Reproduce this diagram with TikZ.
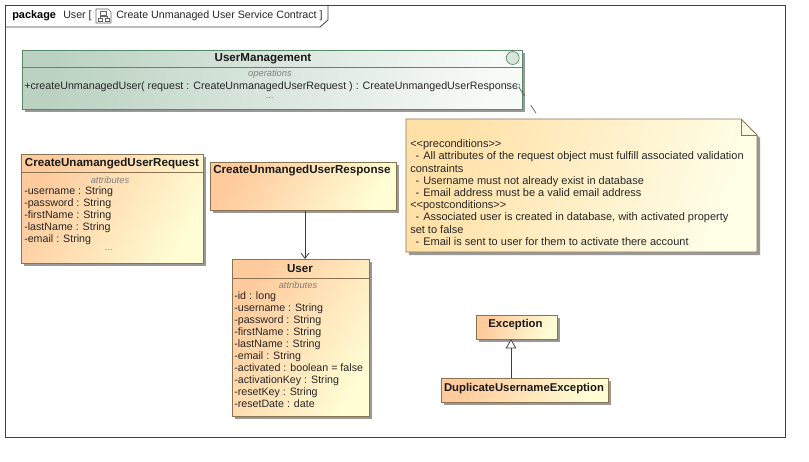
\documentclass[tikz,border=0pt]{standalone}
\usepackage{fontspec}
\setmainfont{Liberation Sans}
\usetikzlibrary{arrows.meta, shadows}
\newcommand{\px}{0.75pt}
\definecolor{classleft}{HTML}{FFCA9C}
\definecolor{classright}{HTML}{FFFDD4}
\definecolor{noteleft}{HTML}{FFE0A6}
\definecolor{noteright}{HTML}{FFFFE8}
\definecolor{ifaceleft}{HTML}{BBD2C2}
\definecolor{ifaceright}{HTML}{F8FAF8}
\definecolor{classline}{HTML}{8A7350}
\definecolor{ifaceline}{HTML}{5B8A66}
\tikzset{
    x=0.75pt, y=-0.75pt,
    boxshadow/.style={general shadow={shadow xshift=3*\px, shadow yshift=-3*\px, fill=black!40}},
    classbox/.style={draw=classline, line width=0.7pt, anchor=north west, inner sep=0pt, boxshadow,
        left color=classleft, right color=classright, shading angle=60},
    ifacebox/.style={draw=ifaceline, line width=0.7pt, anchor=north west, inner sep=0pt, boxshadow,
        left color=ifaceleft, right color=ifaceright, shading angle=80},
    titletext/.style={font=\fontsize{8.7}{9}\selectfont\bfseries, inner sep=0pt, text=black!90},
    listtext/.style={font=\fontsize{8}{9}\selectfont, inner sep=0pt, anchor=north west, align=left, text=black!85},
    comptext/.style={font=\fontsize{7}{8}\selectfont\itshape, inner sep=0pt, text=black!50},
    assoc/.style={-{Straight Barb[length=4pt,width=6pt]}, black!75, line width=0.6pt},
    general/.style={-{Triangle[open,fill=white,length=7pt,width=8pt]}, black!75, line width=0.6pt},
}
\begin{document}
\begin{tikzpicture}
        \useasboundingbox (0,0) rectangle (809,461);

        % Frame with its tab
        \draw[black!75, line width=0.6pt] (5,5) rectangle (785,437);
        \draw[black!75, line width=0.6pt] (5,27) -- (320,27) -- (328,20) -- (328,5);
        \node[font=\fontsize{8.2}{9}\selectfont\bfseries, inner sep=0pt, anchor=base west] (framekind) at (12,18) {package};
        \node[listtext, anchor=base west] (framename) at (63,18) {User [};
        \node[listtext, anchor=base west] (frametitle) at (116,18) {Create Unmanaged User Service Contract ]};

        % Frame icon
        \draw[black!60, line width=0.4pt] (96,9) -- (108,9) -- (111,12) -- (111,23) -- (96,23) -- cycle;
        \draw[black!60, line width=0.4pt] (100,11) rectangle (106,15);
        \draw[black!60, line width=0.4pt] (98,18) rectangle (102,21);
        \draw[black!60, line width=0.4pt] (105,18) rectangle (109,21);
        \draw[black!60, line width=0.4pt] (103,15) -- (103,16.5) (100,18) -- (100,16.5) -- (107,16.5) -- (107,18);

        % UserManagement interface
        \node[ifacebox, minimum width=500*\px, minimum height=59*\px] (usermgmt) at (21.5,50) {};
        \draw[ifaceline, line width=0.7pt] (usermgmt.north west |- 0,67.5) -- (usermgmt.north east |- 0,67.5);
        \node[titletext] (usermgmtname) at (263,59) {UserManagement};
        \node[circle, draw=ifaceline, fill=ifaceleft!60, line width=0.5pt, minimum size=13*\px, inner sep=0pt] (usermgmticon) at (512.7,58) {};
        \node[comptext] (usermgmtops) at (270,74.5) {operations};
        \node[listtext, anchor=base west, font=\fontsize{8.03}{9}\selectfont] (usermgmtop) at (24,89) {+createUnmanagedUser( request : CreateUnmanagedUserRequest ) : CreateUnmangedUserResponse};
        \node[comptext] (usermgmtmore) at (270,98) {...};
        \node[circle, draw=ifaceline, fill=white, line width=0.4pt, minimum size=4*\px, inner sep=0pt] (opport) at (518,86) {};

        % Note
        \draw[draw=classline, line width=0.7pt, boxshadow, left color=noteleft, right color=noteright, shading angle=70]
            (406,119) -- (741,119) -- (757,135) -- (757,252) -- (406,252) -- cycle;
        \draw[classline, line width=0.7pt] (741,119) -- (741,135) -- (757,135);
        \node[listtext, font=\fontsize{8.25}{9.15}\selectfont] (note) at (410,139.5) {%
            <{}<preconditions>{}>\\
            \hspace*{4pt}-\hspace*{3pt}All attributes of the request object must fulfill associated validation\\
            constraints\\
            \hspace*{4pt}-\hspace*{3pt}Username must not already exist in database\\
            \hspace*{4pt}-\hspace*{3pt}Email address must be a valid email address\\
            <{}<postconditions>{}>\\
            \hspace*{4pt}-\hspace*{3pt}Associated user is created in database, with activated property\\
            set to false\\
            \hspace*{4pt}-\hspace*{3pt}Email is sent to user for them to activate there account};
        \coordinate (noteanchor) at (540,119);
        \draw[black!70, line width=0.5pt, dash pattern=on 7.2pt off 8.3pt] (opport) -- (noteanchor);

        % CreateUnamangedUserRequest
        \node[classbox, minimum width=182*\px, minimum height=109*\px] (request) at (21,154) {};
        \draw[classline, line width=0.7pt] (request.north west |- 0,172) -- (request.north east |- 0,172);
        \node[titletext] (requestname) at (112,164) {CreateUnamangedUserRequest};
        \node[comptext] (requestattrs) at (110,180) {attributes};
        \node[listtext] (requestlist) at (24,186.5) {-username : String\\-password : String\\-firstName : String\\-lastName : String\\-email : String};
        \node[comptext] (requestmore) at (109,250) {...};

        % CreateUnmangedUserResponse
        \node[classbox, minimum width=186*\px, minimum height=48*\px] (response) at (210,162) {};
        \node[titletext, anchor=west] (responsename) at (213,171) {CreateUnmangedUserResponse};

        % User
        \node[classbox, minimum width=137*\px, minimum height=157*\px] (user) at (232,259) {};
        \draw[classline, line width=0.7pt] (user.north west |- 0,278) -- (user.north east |- 0,278);
        \node[titletext] (username) at (300,269) {User};
        \node[comptext] (userattrs) at (298,285) {attributes};
        \node[listtext] (userlist) at (234,291.5) {-id : long\\-username : String\\-password : String\\-firstName : String\\-lastName : String\\-email : String\\-activated : boolean = false\\-activationKey : String\\-resetKey : String\\-resetDate : date};

        % Exception
        \node[classbox, minimum width=81*\px, minimum height=24*\px] (exception) at (476,315) {};
        \node[titletext, font=\fontsize{8.5}{9}\selectfont\bfseries] (exceptionname) at (515.5,325) {Exception};

        % DuplicateUsernameException
        \node[classbox, minimum width=167*\px, minimum height=24*\px] (duplicate) at (441,378) {};
        \node[titletext, font=\fontsize{8.5}{9}\selectfont\bfseries] (duplicatename) at (524,388.5) {DuplicateUsernameException};

        % Connectors
        \coordinate (userin) at (305,259);
        \coordinate (exceptionin) at (511,339);
        \draw[assoc] (response.south -| userin) -- (userin);
        \draw[general] (duplicate.north -| exceptionin) -- (exceptionin);
\end{tikzpicture}
\end{document}
